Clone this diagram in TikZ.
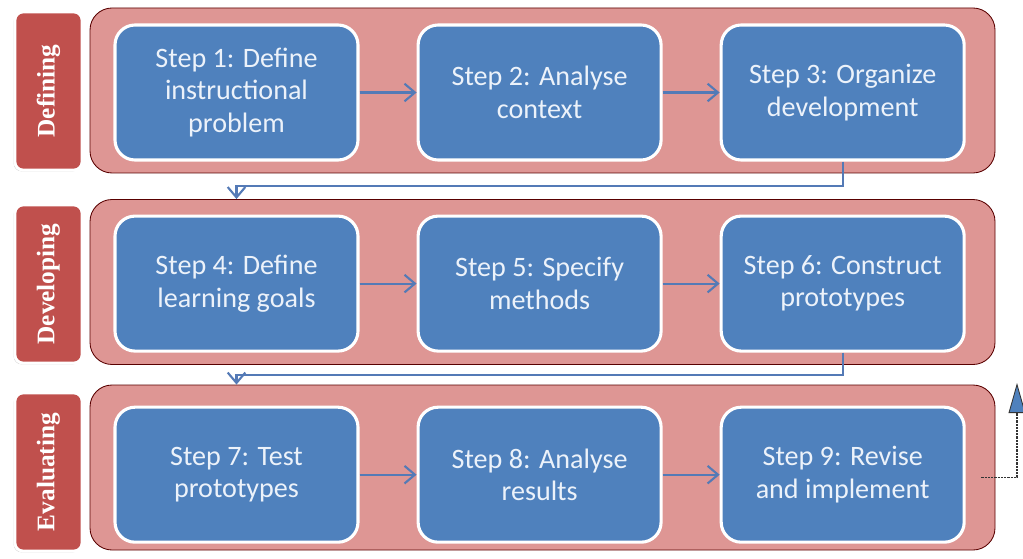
\documentclass[tikz,border=0pt]{standalone}
\usepackage{fontspec}
\setmainfont{Carlito}
\newfontfamily\phasefont{Liberation Serif}
\usetikzlibrary{positioning,calc,arrows.meta,shadows}

\definecolor{stepblue}{RGB}{79,129,189}
\definecolor{panelpink}{RGB}{222,150,148}
\definecolor{phasered}{RGB}{192,80,77}
\definecolor{linkblue}{RGB}{84,122,182}
\definecolor{steptext}{RGB}{236,242,250}

\begin{document}
\begin{tikzpicture}[node distance=1.325cm and 1.425cm, >={Straight Barb[length=2.6mm,width=4.4mm]},
    stepbox/.style={rectangle, rounded corners=0.5cm, draw=white, line width=2.2pt, fill=stepblue, minimum width=6.075cm, minimum height=3.375cm, align=center, text=steptext, font=\fontsize{20}{23}\selectfont},
    panel/.style={rectangle, rounded corners=0.55cm, draw=black!65!red, line width=0.6pt, fill=panelpink, minimum width=22.625cm, minimum height=4.125cm},
    phase/.style={rectangle, rotate=90, rounded corners=0.2cm, draw=white, line width=2pt, fill=phasered, minimum width=3.95cm, minimum height=1.675cm, text=white, font=\phasefont\bfseries\fontsize{18}{20}\selectfont, drop shadow={shadow xshift=-1pt, shadow yshift=-1pt, opacity=0.3}},
    flow/.style={->, draw=linkblue, line width=1.5pt}]
    \useasboundingbox (0,0) rectangle (25.575,-13.975);

    % Panels
    \node[panel] (p1) at (13.5625,-2.2625) {};
    \node[panel] (p2) at (13.5625,-7.05) {};
    \node[panel] (p3) at (13.5625,-11.6875) {};

    % Phases
    \node[phase] (defining) at (1.2125,-2.275) {Defining};
    \node[phase] (developing) at (1.2125,-7.1) {Developing};
    \node[phase] (evaluating) at (1.2125,-11.8) {Evaluating};

    % Defining steps
    \node[stepbox] (s1) at (5.9125,-2.3125) {Step 1: Define\\instructional\\problem};
    \node[stepbox, right=of s1] (s2) {Step 2: Analyse\\context};
    \node[stepbox, right=of s2] (s3) {Step 3: Organize\\development};

    % Developing steps
    \node[stepbox, below=of s1] (s4) {Step 4: Define\\learning goals};
    \node[stepbox, right=of s4] (s5) {Step 5: Specify\\methods};
    \node[stepbox, right=of s5] (s6) {Step 6: Construct\\prototypes};

    % Evaluating steps
    \node[stepbox, below=of s4] (s7) {Step 7: Test\\prototypes};
    \node[stepbox, right=of s7] (s8) {Step 8: Analyse\\results};
    \node[stepbox, right=of s8] (s9) {Step 9: Revise\\and implement};

    % Connections
    \draw[flow] (s1) -- (s2);
    \draw[flow] (s2) -- (s3);
    \draw[flow] (s4) -- (s5);
    \draw[flow] (s5) -- (s6);
    \draw[flow] (s7) -- (s8);
    \draw[flow] (s8) -- (s9);

    \coordinate (gap1) at ($(p1.south)!.5!(p2.north)$);
    \coordinate (gap2) at ($(p2.south)!.5!(p3.north)$);
    \draw[flow] (s3.south) |- (gap1 -| s4) -- (s4 |- p2.north);
    \draw[flow] (s6.south) |- (gap2 -| s7) -- (s7 |- p3.north);

    % Loop back
    \coordinate (back) at (25.425,-9.575);
    \draw[dash pattern=on 1.6pt off 0.7pt, line width=1.4pt, black!80, -{Triangle[width=0.42cm, length=0.75cm, fill=stepblue, line width=0.6pt]}] ([xshift=-0.35cm,yshift=-0.25cm]p3.east) -| (back);
\end{tikzpicture}
\end{document}
